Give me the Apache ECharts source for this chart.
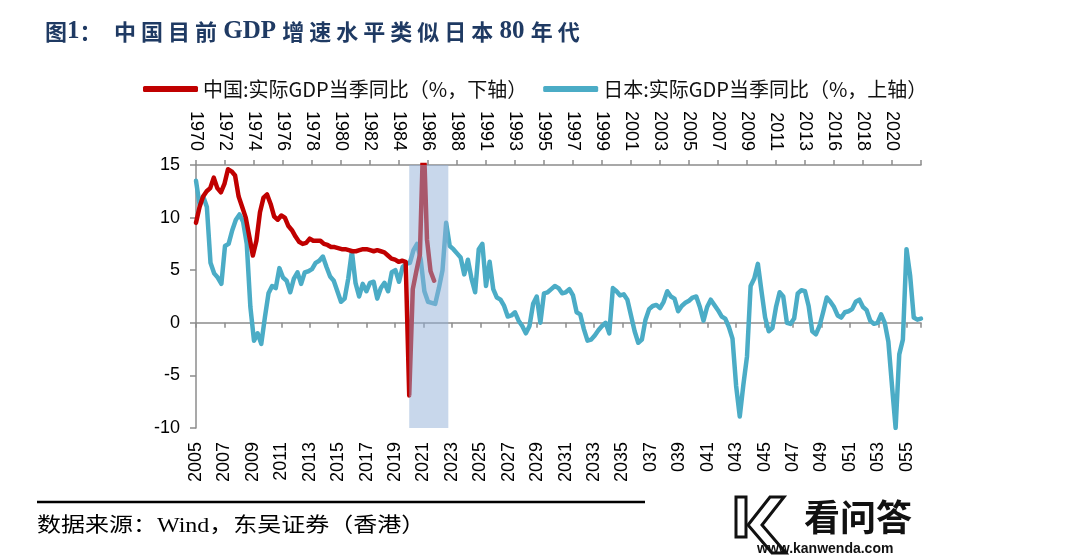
<!DOCTYPE html>
<html>
<head>
<meta charset="utf-8">
<script src="https://cdn.jsdelivr.net/npm/echarts@6/dist/echarts.min.js"></script>
<style>
html,body{margin:0;padding:0;background:#fff;}
#chart{width:1080px;height:560px;}
</style>
</head>
<body>
<div id="chart"></div>
<script>
// ---- data ----
const chinaName = '中国:实际GDP当季同比（%，下轴）';
const japanName = '日本:实际GDP当季同比（%，上轴）';

// top axis (Japan) tick labels, one per tick (8 quarters)
const topLabels = ['1970','1972','1974','1976','1978','1980','1982','1984','1986','1988',
  '1991','1993','1995','1997','1999','2001','2003','2005','2007','2009','2011','2013',
  '2016','2018','2020'];
// bottom axis (China) tick labels, one per tick (8 quarters); "20" hidden in the source
const bottomLabels = ['2005','2007','2009','2011','2013','2015','2017','2019','2021','2023',
  '2025','2027','2029','2031','2033','2035','037','039','041','043','045','047','049',
  '051','053','055'];

// China real GDP yoy, quarterly from 2005Q1
const chinaGdp = [9.5,11.0,12.0,12.5,12.8,13.8,12.8,12.4,13.2,14.6,14.4,14.0,12.0,11.0,10.0,8.2,
  6.4,7.8,10.5,11.9,12.2,11.3,10.1,9.8,10.2,10.0,9.2,8.8,8.2,7.7,7.5,7.6,
  8.0,7.8,7.8,7.8,7.5,7.4,7.2,7.2,7.1,7.0,7.0,6.9,6.8,6.8,6.9,7.0,
  7.0,6.9,6.8,6.9,6.8,6.7,6.4,6.1,6.0,5.8,5.9,5.8,-6.9,3.2,4.9,6.5,
  18.3,7.9,4.9,4.0];

// Japan real GDP yoy, quarterly from 1970
const japanGdp = [13.5,11.2,12.0,11.0,5.7,4.7,4.3,3.7,7.3,7.5,8.8,9.8,10.3,9.6,7.5,1.5,
  -1.7,-1.0,-2.0,0.5,2.8,3.5,3.3,5.2,4.3,4.0,2.9,4.2,4.8,3.7,4.8,4.9,
  5.1,5.7,5.9,6.3,5.3,4.4,4.0,3.0,2.0,2.3,4.2,6.8,3.8,2.5,3.7,3.0,
  3.8,3.9,2.3,3.3,3.8,3.0,4.8,5.0,3.9,5.3,5.6,5.7,6.9,7.5,6.0,3.0,
  2.0,1.9,1.8,3.3,5.0,9.5,7.3,7.0,6.6,6.2,4.6,6.0,4.2,2.9,7.0,7.5,
  3.5,5.8,3.2,2.4,2.2,1.6,0.6,0.7,1.0,0.2,-0.3,-1.0,-0.3,1.8,2.5,0.0,
  2.8,2.9,3.2,3.5,3.3,2.8,2.9,3.2,2.6,1.0,0.8,-0.6,-1.7,-1.6,-1.2,-0.7,
  -0.3,0.0,-1.0,3.3,3.0,2.6,2.7,2.2,0.7,-0.8,-1.9,-1.6,0.3,1.3,1.6,1.7,
  1.4,2.0,3.0,2.5,2.3,1.1,1.6,1.9,2.1,2.4,2.5,1.5,0.2,1.5,2.2,1.7,
  1.2,0.6,0.4,-0.4,-1.5,-6.0,-8.9,-5.9,-3.2,3.5,4.2,5.6,3.0,0.5,-0.8,-0.5,
  1.5,2.9,2.5,0.0,-0.1,0.4,2.8,3.1,3.0,1.6,-0.8,-1.1,-0.3,1.0,2.4,2.0,
  1.5,0.7,0.5,1.0,1.1,1.3,2.0,2.2,1.5,1.2,0.2,-0.1,0.0,0.8,0.0,-1.8,
  -6.0,-10.0,-3.0,-1.6,7.0,4.5,0.5,0.3,0.4];

// shaded period, China quarter indices (2020Q1 .. 2022Q4)
const shadeQuarters = [60, 71];
const Q_PER_TICK = 8;

// ---- chart ----
const chart = echarts.init(document.getElementById('chart'), null, {renderer:'canvas'});
const axisGray = '#8c8c8c';
const labelFont = {fontFamily:'Liberation Sans, Arial, sans-serif', fontSize:18, color:'#000'};

const option = {
  animation:false,
  backgroundColor:'#fff',
  title:{
    left:40, top:14,
    text:'{c|图}{l|1}{c|：}{l|  }{c|中 国 目 前}{l| GDP }{c|增 速 水 平 类 似 日 本}{l| 80 }{c|年 代}',
    textStyle:{
      rich:{
        c:{fontFamily:'Noto Sans CJK SC', fontWeight:'bold', fontSize:22, color:'#1f3a63'},
        l:{fontFamily:'Liberation Serif', fontWeight:'bold', fontSize:25, color:'#1f3a63'}
      }
    }
  },
  legend:{
    left:138, top:74,
    data:[chinaName, japanName],
    icon:'roundRect', itemWidth:55, itemHeight:6, itemGap:16,
    textStyle:{fontFamily:'Noto Sans CJK SC', fontSize:20, color:'#111'}
  },
  grid:{left:196, right:159, top:165, bottom:132, outerBoundsMode:'none', containLabel:false},
  xAxis:[
    { // China data axis, line drawn on zero
      type:'value', position:'bottom', min:0, max:25.5, interval:1,
      axisLine:{show:true, onZero:true, lineStyle:{color:axisGray, width:1.5}},
      axisTick:{show:true, length:5, lineStyle:{color:axisGray, width:1.5}},
      axisLabel:{show:false}, splitLine:{show:false}
    },
    { // China labels at bottom
      type:'value', position:'bottom', min:0, max:25.5, interval:1,
      axisLine:{show:false, onZero:false}, axisTick:{show:false}, splitLine:{show:false},
      axisLabel:Object.assign({rotate:90, margin:14,
        formatter:v => (Number.isInteger(v) && bottomLabels[v]) ? bottomLabels[v] : ''}, labelFont)
    },
    { // Japan axis on top
      type:'value', position:'top', min:0, max:25, interval:1,
      axisLine:{show:true, onZero:false, lineStyle:{color:axisGray, width:1.5}},
      axisTick:{show:true, length:5, lineStyle:{color:axisGray, width:1.5}},
      splitLine:{show:false},
      axisLabel:Object.assign({rotate:90, margin:14,
        formatter:v => (Number.isInteger(v) && topLabels[v]) ? topLabels[v] : ''}, labelFont)
    }
  ],
  yAxis:{
    type:'value', min:-10, max:15, interval:5,
    axisLine:{show:true, onZero:false, lineStyle:{color:axisGray, width:1.5}},
    axisTick:{show:true, length:6, lineStyle:{color:axisGray, width:1.5}},
    splitLine:{show:false},
    axisLabel:Object.assign({margin:16}, labelFont)
  },
  series:[
    {
      name:japanName, type:'line', xAxisIndex:2, yAxisIndex:0, z:2,
      data:japanGdp.map((v,i)=>[i/Q_PER_TICK, v]),
      showSymbol:false, symbol:'none', clip:true,
      lineStyle:{color:'#4BACC6', width:4.5, join:'round', cap:'round'},
      itemStyle:{color:'#4BACC6'}
    },
    {
      name:chinaName, type:'line', xAxisIndex:0, yAxisIndex:0, z:3,
      data:chinaGdp.map((v,j)=>[j/Q_PER_TICK, v]),
      showSymbol:false, symbol:'none', clip:true,
      lineStyle:{color:'#C00000', width:4.5, join:'round', cap:'round'},
      itemStyle:{color:'#C00000'}
    },
    {
      name:'shade', type:'line', xAxisIndex:0, yAxisIndex:0, z:10, data:[],
      markArea:{
        silent:true, z:10,
        itemStyle:{color:'rgba(145,175,215,0.5)'},
        data:[[{xAxis:shadeQuarters[0]/Q_PER_TICK},{xAxis:shadeQuarters[1]/Q_PER_TICK}]]
      }
    }
  ],
  graphic:[
    {type:'line', shape:{x1:37, y1:502, x2:645, y2:502}, style:{stroke:'#000', lineWidth:2.5}},
    {type:'text', x:37, y:527, scaleY:0.85,
      style:{text:'数据来源：Wind，东吴证券（香港）', fontFamily:'Liberation Serif, Noto Sans CJK SC',
        fontSize:24, fill:'#000', verticalAlign:'middle'}},
    // watermark
    {type:'rect', shape:{x:736, y:497, width:10, height:40}, style:{fill:'#fff', stroke:'#111', lineWidth:3}},
    {type:'polygon', shape:{points:[[784,497],[770,497],[748,525],[772,553],[786,553],[762,525]]},
      style:{fill:'#fff', stroke:'#111', lineWidth:3}},
    {type:'text', x:804, y:517,
      style:{text:'看问答', fontFamily:'Noto Sans CJK SC', fontWeight:'bold', fontSize:36, fill:'#111', verticalAlign:'middle'}},
    {type:'text', x:757, y:549,
      style:{text:'www.kanwenda.com', fontFamily:'Liberation Sans', fontWeight:'bold', fontSize:14, fill:'#111', verticalAlign:'middle'}}
  ]
};
chart.setOption(option);
</script>
</body>
</html>
